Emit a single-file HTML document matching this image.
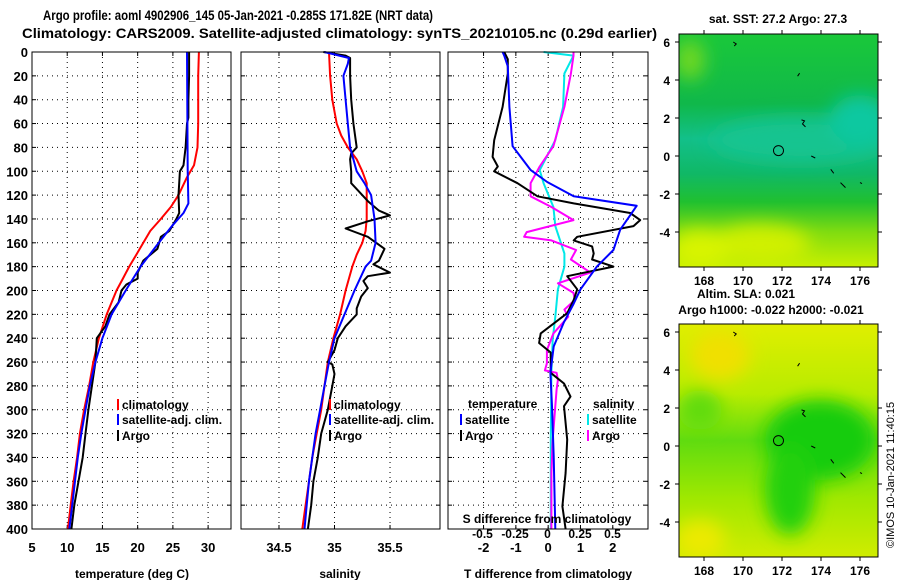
<!DOCTYPE html>
<html><head><meta charset="utf-8"><style>
html,body{margin:0;padding:0;background:#fff;}
svg text{font-family:"Liberation Sans",sans-serif;font-weight:bold;}
</style></head><body>
<svg id="c" width="900" height="580" viewBox="0 0 900 580" xmlns="http://www.w3.org/2000/svg">
<defs>
<filter id="bl" x="-20%" y="-20%" width="140%" height="140%"><feGaussianBlur stdDeviation="9"/></filter>
<clipPath id="m1c"><rect x="679" y="34" width="199" height="233"/></clipPath>
<clipPath id="m2c"><rect x="679" y="324" width="199" height="233"/></clipPath>
<linearGradient id="g1" x1="0" y1="0" x2="0" y2="1">
<stop offset="0" stop-color="#1ac83a"/><stop offset="0.3" stop-color="#10b84a"/><stop offset="0.45" stop-color="#12c08a"/><stop offset="0.6" stop-color="#10b866"/><stop offset="0.72" stop-color="#20c030"/><stop offset="0.85" stop-color="#80dc10"/><stop offset="1" stop-color="#c8f000"/></linearGradient>
<linearGradient id="g2" x1="0" y1="0" x2="0" y2="1">
<stop offset="0" stop-color="#e0ee00"/><stop offset="0.3" stop-color="#b8ec00"/><stop offset="0.5" stop-color="#60dc10"/><stop offset="0.75" stop-color="#a0e800"/><stop offset="1" stop-color="#d0ec00"/></linearGradient>
</defs>
<text x="43" y="20" font-size="14" textLength="390" lengthAdjust="spacingAndGlyphs">Argo profile: aoml 4902906_145 05-Jan-2021 -0.285S 171.82E (NRT data)</text>
<text x="22" y="38" font-size="14" textLength="635" lengthAdjust="spacingAndGlyphs">Climatology: CARS2009. Satellite-adjusted climatology: synTS_20210105.nc (0.29d earlier)</text>
<g id="plots"></g>
<g id="maps">
<g clip-path="url(#m1c)">
<rect x="679" y="34" width="199" height="233" fill="url(#g1)"/>
<g filter="url(#bl)">
<ellipse cx="800" cy="140" rx="90" ry="22" fill="#14c490"/>
<ellipse cx="860" cy="120" rx="30" ry="25" fill="#10c8a0"/>
<ellipse cx="760" cy="245" rx="50" ry="20" fill="#d0f000"/>
<ellipse cx="700" cy="250" rx="30" ry="20" fill="#d8f400"/>
<ellipse cx="690" cy="60" rx="15" ry="20" fill="#70d820"/>
</g></g>
<rect x="679" y="34" width="199" height="233" fill="none" stroke="#000"/>
<g clip-path="url(#m2c)">
<rect x="679" y="324" width="199" height="233" fill="url(#g2)"/>
<g filter="url(#bl)">
<ellipse cx="820" cy="440" rx="55" ry="40" fill="#18cc10"/>
<ellipse cx="790" cy="490" rx="25" ry="45" fill="#20d010"/>
<ellipse cx="720" cy="355" rx="30" ry="25" fill="#f0e000"/>
<ellipse cx="700" cy="540" rx="25" ry="20" fill="#ecea00"/>
<ellipse cx="700" cy="410" rx="22" ry="20" fill="#60dc10"/>
</g></g>
<rect x="679" y="324" width="199" height="233" fill="none" stroke="#000"/>
<text x="778" y="23" font-size="12" text-anchor="middle">sat. SST: 27.2 Argo: 27.3</text>
<text x="746" y="298" font-size="12" text-anchor="middle">Altim. SLA: 0.021</text>
<text x="771" y="314" font-size="12" text-anchor="middle">Argo h1000: -0.022 h2000: -0.021</text>
<text transform="translate(894,548) rotate(-90)" font-size="11" style="font-weight:normal">©IMOS 10-Jan-2021 11:40:15</text>
</g>
</svg>
<script>
// ---- data ----
const depthTC=[0,20,60,80,95,105,120,130,140,150,160,170,180,190,200,220,240,260,280,300,320,340,360,380,400];
const tempClim=[28.7,28.6,28.6,28.5,28,27,25.8,24.7,23.3,21.8,20.8,19.8,18.8,17.9,17.0,15.6,14.5,13.7,13.1,12.4,11.8,11.4,10.9,10.5,10.1];
const depthTS=[0,100,127,135,145,160,180,200,220,240,260,280,300,320,340,360,380,400];
const tempSat=[27.0,27.1,27.2,26.5,25,23,20.4,18.3,16.3,15,14.0,13.2,12.6,12.0,11.5,11.1,10.7,10.3];
const depthTA=[0,20,40,55,60,80,95,100,120,135,140,150,155,165,175,185,190,195,200,210,220,230,240,260,280,300,320,340,360,380,400];
const tempArgo=[27.3,27.3,27.2,27.2,27.0,26.8,26.5,26.0,25.8,25.9,25.5,24.5,23.3,22.8,20.8,20.0,20.0,18.4,17.7,17.3,16.0,15.4,14.2,14.0,13.5,13.0,12.6,12.2,11.6,11.0,10.6];
const depthSC=[0,20,40,60,70,80,90,100,110,120,140,150,160,170,180,200,220,240,260,280,300,320,340,360,380,400];
const salClim=[34.95,34.96,34.98,35.02,35.06,35.12,35.20,35.25,35.29,35.29,35.29,35.28,35.25,35.20,35.16,35.10,35.05,34.99,34.94,34.91,34.88,34.84,34.80,34.77,34.74,34.71];
const depthSS=[0,5,10,20,40,60,80,100,110,120,140,160,175,180,200,220,240,260,280,300,320,340,360,380,400];
const salSat=[34.91,35.13,35.12,35.08,35.10,35.12,35.14,35.2,35.27,35.33,35.36,35.37,35.33,35.28,35.18,35.09,35.0,34.95,34.91,34.87,34.83,34.80,34.77,34.75,34.73];
const depthSA=[0,3,5,20,40,60,80,85,90,100,110,115,125,133,137,142,148,155,165,175,178,185,188,192,198,205,215,220,230,240,250,260,262,270,280,300,320,340,360,380,400];
const salArgo=[34.9,35.1,35.14,35.14,35.15,35.17,35.2,35.15,35.14,35.15,35.15,35.2,35.3,35.4,35.5,35.3,35.1,35.3,35.45,35.4,35.35,35.5,35.3,35.26,35.3,35.24,35.2,35.2,35.1,35.03,35.0,34.94,34.98,35.0,34.98,34.94,34.88,34.85,34.81,34.79,34.76];
const depthDTS=[0,3,12,46,79,88,99,109,121,129,149,166,180,199,211,227,247,269,297,339,400];
const dTSat=[-1.41,-1.36,-1.25,-1.2,-1.1,-0.85,-0.54,-0.03,0.79,2.74,2.23,2.02,1.51,1.0,0.79,0.48,0.17,0.07,0.12,0.17,0.22];
const depthDTA=[0,6,18,46,74,88,96,100,110,121,127,135,141,146,155,158,163,169,174,180,188,199,208,219,236,244,252,269,278,289,297,325,353,381,400];
const dTArgo=[-1.36,-1.25,-1.25,-1.41,-1.67,-1.72,-1.56,-1.67,-0.95,-0.33,0.79,2.54,2.85,2.64,0.9,0.79,1.36,1.41,1.36,2.02,0.59,0.9,0.79,0.59,-0.23,-0.28,0.08,0.08,0.49,0.69,0.49,0.59,0.54,0.44,0.54];
const depthDSS=[0,3,18,46,74,99,110,130,146,169,180,199,222,241,269,325,400];
const dSSat=[-0.03,0.2,0.13,0.12,0.06,-0.06,-0.03,0.045,0.06,0.13,0.13,0.08,0.06,0.04,0.03,0.025,0.025];
const depthDSA=[0,3,18,46,79,96,110,121,130,141,151,155,158,166,174,185,194,202,208,216,222,236,250,261,267,269,275,283,297,325,353,400];
const dSArgo=[0.2,0.2,0.18,0.13,0.045,-0.06,-0.13,-0.13,0.03,0.2,-0.16,-0.18,0.03,0.22,0.18,0.33,0.08,0.2,0.21,0.13,0.16,0.045,-0.005,-0.005,-0.02,0.07,0.08,0.07,0.06,0.04,0.03,0.03];
const depthTicks=[0,20,40,60,80,100,120,140,160,180,200,220,240,260,280,300,320,340,360,380,400];
const tempTicks=[5,10,15,20,25,30];
const salTicks=[34.5,35,35.5];
const dTTicks=[-2,-1,0,1,2];
const dSTicks=[-0.5,-0.25,0,0.25,0.5];
const dSTickLabels=["-0.5","-0.25","0","0.25","0.5"];
const lonTicks=[168,170,172,174,176];
const latTicks=[6,4,2,0,-2,-4];
const argoLon=171.82, argoLat=0.285;

const NS="http://www.w3.org/2000/svg";
const plotRoot=document.getElementById('plots');
function el(tag,attrs,parent){const e=document.createElementNS(NS,tag);for(const k in attrs)e.setAttribute(k,attrs[k]);(parent||plotRoot).appendChild(e);return e;}
const yTop=52,yBot=529;
const yD=d=>yTop+d*(yBot-yTop)/400;
const panels=[
 {x0:32,x1:231,v0:5,v1:33.25,name:'temperature-panel'},
 {x0:241,x1:440,v0:34.158,v1:35.95,name:'salinity-panel'},
 {x0:448,x1:648,v0:-3.1,v1:3.09,name:'difference-panel'}];
function sx(p,v){return p.x0+(v-p.v0)*(p.x1-p.x0)/(p.v1-p.v0);}
panels.forEach(p=>{
  const g=el('g',{});
  
  
  p.g=g;
  el('rect',{x:p.x0,y:yTop,width:p.x1-p.x0,height:yBot-yTop,fill:'#fff'},g);
  depthTicks.forEach(d=>{
    if(d>0&&d<400){const l=el('line',{x1:p.x0,x2:p.x1,y1:yD(d),y2:yD(d),stroke:'#000','stroke-dasharray':'1,4','stroke-width':1},g);
    
    }
    el('line',{x1:p.x0,x2:p.x0+4,y1:yD(d),y2:yD(d),stroke:'#000'},g);
    el('line',{x1:p.x1,x2:p.x1-4,y1:yD(d),y2:yD(d),stroke:'#000'},g);
  });
});
depthTicks.forEach(d=>{const t=el('text',{x:28,y:yD(d)+5,'font-size':13,'text-anchor':'end'});t.textContent=d;

});
function xgrid(p,vals,labels,ly){
  vals.forEach((v,i)=>{const x=sx(p,v);
    const l=el('line',{x1:x,x2:x,y1:yTop,y2:yBot,stroke:'#000','stroke-dasharray':'1,4'},p.g);
    
    
    el('line',{x1:x,x2:x,y1:yTop,y2:yTop+4,stroke:'#000'},p.g);
    el('line',{x1:x,x2:x,y1:yBot,y2:yBot-4,stroke:'#000'},p.g);
    if(labels){const t=el('text',{x:x,y:ly,'font-size':13,'text-anchor':'middle'},p.g);t.textContent=labels[i];
    
    }
  });
}
xgrid(panels[0],tempTicks,tempTicks,552);
xgrid(panels[1],salTicks,salTicks,552);
xgrid(panels[2],dTTicks,dTTicks,552);
function line(p,ds,vs,color,name,w,scaleFn){
  const pts=ds.map((d,i)=>(scaleFn?scaleFn(vs[i]):sx(p,vs[i])).toFixed(1)+','+yD(d).toFixed(1)).join(' ');
  const pl=el('polyline',{points:pts,fill:'none',stroke:color,'stroke-width':w||2,'stroke-linejoin':'round'},p.g);
  
  
}
const P0=panels[0],P1=panels[1],P2=panels[2];
line(P0,depthTC,tempClim,'#f00','temp-climatology-line');
line(P0,depthTA,tempArgo,'#000','temp-argo-line');
line(P0,depthTS,tempSat,'#00f','temp-satellite-line');
line(P1,depthSC,salClim,'#f00','sal-climatology-line');
line(P1,depthSA,salArgo,'#000','sal-argo-line');
line(P1,depthSS,salSat,'#00f','sal-satellite-line');
const sS=v=>547.5+v*130;
line(P2,depthDSS,dSSat,'#00e8e8','dsal-satellite-line',2,sS);
line(P2,depthDSA,dSArgo,'#f0f','dsal-argo-line',2,sS);
line(P2,depthDTA,dTArgo,'#000','dtemp-argo-line');
line(P2,depthDTS,dTSat,'#00f','dtemp-satellite-line');
panels.forEach(p=>el('rect',{x:p.x0,y:yTop,width:p.x1-p.x0,height:yBot-yTop,fill:'none',stroke:'#000'},p.g));
const sl=el('text',{x:547,y:523,'font-size':12,'text-anchor':'middle'},P2.g);sl.textContent='S difference from climatology';


dSTicks.forEach((v,i)=>{const t=el('text',{x:sS(v),y:538,'font-size':12,'text-anchor':'middle'},P2.g);t.textContent=dSTickLabels[i];

});
[[132,'temperature (deg C)'],[340,'salinity'],[548,'T difference from climatology']].forEach(a=>{
 const t=el('text',{x:a[0],y:578,'font-size':12,'text-anchor':'middle'});t.textContent=a[1];
 
 });
function leg(x,y,color,label,p){
 const g=el('g',{},p.g);
 
 
 el('line',{x1:x,x2:x,y1:y-10,y2:y+1,stroke:color,'stroke-width':2},g);
 const t=el('text',{x:x+4,y:y,'font-size':12},g);t.textContent=label;
}
leg(118,409,'#f00','climatology',P0);leg(118,424,'#00f','satellite-adj. clim.',P0);leg(118,440,'#000','Argo',P0);
leg(330,409,'#f00','climatology',P1);leg(330,424,'#00f','satellite-adj. clim.',P1);leg(330,440,'#000','Argo',P1);
const th=el('text',{x:468,y:408,'font-size':12},P2.g);th.textContent='temperature';


const sh=el('text',{x:593,y:408,'font-size':12},P2.g);sh.textContent='salinity';


leg(461,424,'#00f','satellite',P2);leg(461,440,'#000','Argo',P2);
leg(588,424,'#00e8e8','satellite',P2);leg(588,440,'#f0f','Argo',P2);
const mapsG=document.getElementById('maps');
const lonX=l=>704+(l-168)*19.5;
[[34,267,156],[324,557,446]].forEach((m,mi)=>{
 const latY=la=>m[2]-la*19;
 lonTicks.forEach(l=>{
  el('line',{x1:lonX(l),x2:lonX(l),y1:m[0],y2:m[0]-4,stroke:'#000'},mapsG);
  el('line',{x1:lonX(l),x2:lonX(l),y1:m[1],y2:m[1]+4,stroke:'#000'},mapsG);
  const t=el('text',{x:lonX(l),y:m[1]+18,'font-size':12,'text-anchor':'middle'},mapsG);t.textContent=l;
  
  
 });
 latTicks.forEach(la=>{
  el('line',{x1:679,x2:675,y1:latY(la),y2:latY(la),stroke:'#000'},mapsG);
  el('line',{x1:878,x2:882,y1:latY(la),y2:latY(la),stroke:'#000'},mapsG);
  const t=el('text',{x:670,y:latY(la)+5,'font-size':12,'text-anchor':'end'},mapsG);t.textContent=la;
  
  
 });
 const c=el('circle',{cx:lonX(argoLon),cy:latY(argoLat),r:5,fill:'none',stroke:'#000'},mapsG);
 
 
 const isl=el('path',{d:`M${lonX(172.8)} ${latY(4.2)} l2 -3 M${lonX(173)} ${latY(1.9)} l3 1 l-2 3 l3 3 M${lonX(173.5)} ${latY(0)} l4 2 M${lonX(174.5)} ${latY(-0.7)} l3 4 M${lonX(175)} ${latY(-1.4)} l5 5 M${lonX(176)} ${latY(-1.4)} l2 1 M${lonX(169.5)} ${latY(6)} l3 2 l-2 2`,fill:'none',stroke:'#000','stroke-width':1},mapsG);
 
 
});
</script>
</body></html>
